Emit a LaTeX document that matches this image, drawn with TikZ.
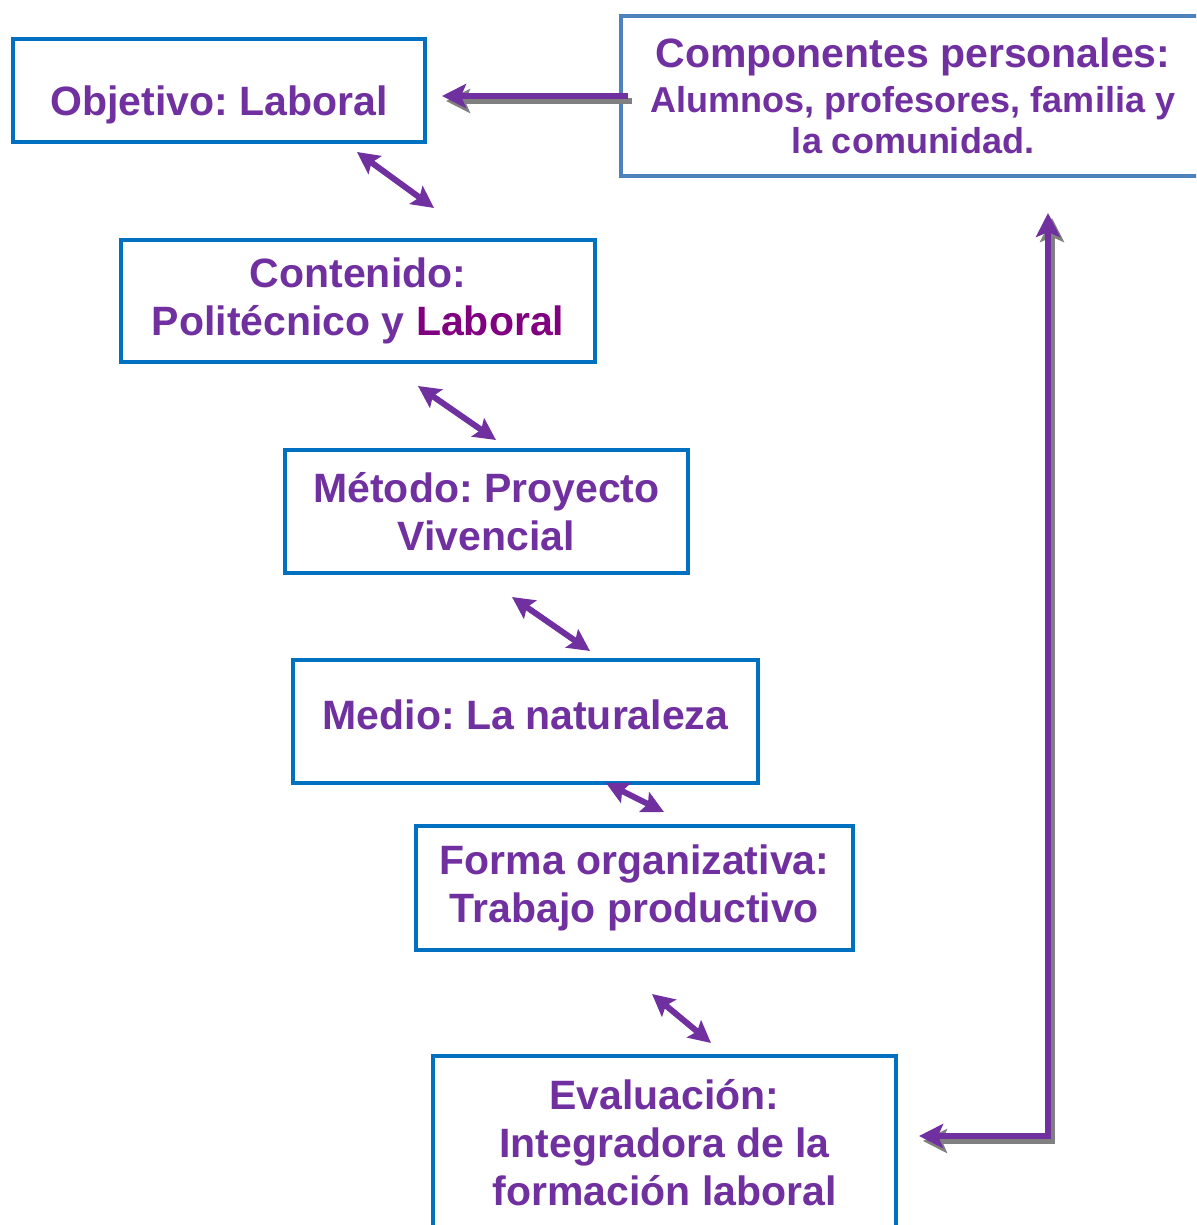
\documentclass[tikz,border=0pt]{standalone}
\usepackage{fontspec}
\setmainfont{Liberation Sans}
\usetikzlibrary{arrows.meta}
\frenchspacing
\begin{document}
\begin{tikzpicture}[x=0.5pt,y=-0.5pt,
  caja/.style={draw=cajaazul,line width=2pt,text=morado,align=center,inner sep=0pt,
    font=\bfseries\fontsize{20.5}{24}\selectfont},
  punta/.tip={Stealth[length=12pt,width=12pt,inset=2.5pt]},
  puntita/.tip={Stealth[length=11pt,width=11pt,inset=2pt]},
  doble/.style={draw=morado,line width=3pt,puntita-puntita},
  flecha/.style={line width=3.2pt}]
  \definecolor{cajaazul}{HTML}{0070C0}
  \definecolor{cajagris}{HTML}{4F81BD}
  \definecolor{morado}{HTML}{7030A0}
  \definecolor{magenta}{HTML}{800080}
  \definecolor{sombragris}{HTML}{808080}
  \useasboundingbox (0,0) rectangle (1196,1225);
  \clip (0,0) rectangle (1196,1225);
  % cajas
  \node[caja,minimum width=206pt,minimum height=51.5pt,text height=30pt,text depth=4.5pt] (obj) at (219,90.5) {Objetivo: Laboral};
  \node[caja,minimum width=237pt,minimum height=61pt] (cont) at (358,301) {Contenido:\\Politécnico y \textcolor{magenta}{Laboral}};
  \node[caja,minimum width=201.5pt,minimum height=61.5pt] (met) at (486.5,511.5) {Método: Proyecto\\Vivencial};
  \node[caja,minimum width=232.5pt,minimum height=61.5pt,text depth=7pt] (med) at (525.5,721.5) {Medio: La naturaleza};
  \node[caja,minimum width=218.5pt,minimum height=62pt] (forma) at (634.5,888) {Forma organizativa:\\Trabajo productivo};
  \node[caja,minimum width=231.5pt,minimum height=87pt] (eval) at (664.5,1143) {Evaluación:\\Integradora de la\\formación laboral};
  \node[caja,draw=cajagris,minimum width=292pt,minimum height=80pt,font=\bfseries\fontsize{18}{20.5}\selectfont] (comp) at (913,96)
    {{\fontsize{20.5}{22.5}\selectfont Componentes personales:}\\[2pt]Alumnos, profesores, familia y\\la comunidad.};
  % flechas dobles
  \coordinate (d1a) at (357,152); \coordinate (d1b) at (434,208);
  \coordinate (d2a) at (418,386); \coordinate (d2b) at (496,440);
  \coordinate (d3a) at (512,597); \coordinate (d3b) at (590,651);
  \coordinate (d4a) at (606,783); \coordinate (d4b) at (664,812);
  \coordinate (d5a) at (652,994); \coordinate (d5b) at (711,1043);
  \foreach \i in {1,...,5}
    \draw[doble] (d\i a) -- (d\i b);
  % componentes personales
  \coordinate (esq) at (1048,1136);
  \draw[flecha,sombragris,-punta,transform canvas={xshift=2pt,yshift=-2.5pt},shorten <=-4.5pt,shorten >=7.5pt]
    (comp.west) -- (obj.east |- comp.west);
  \draw[flecha,morado,-punta,shorten <=-4.5pt,shorten >=7.5pt] (comp.west) -- (obj.east |- comp.west);
  \draw[flecha,sombragris,punta-punta,transform canvas={xshift=2pt,yshift=-2.5pt},shorten <=10.5pt,shorten >=17.5pt]
    (eval.east |- esq) -| (comp.south -| esq);
  \draw[flecha,morado,punta-punta,shorten <=10.5pt,shorten >=17.5pt] (eval.east |- esq) -| (comp.south -| esq);
\end{tikzpicture}
\end{document}
